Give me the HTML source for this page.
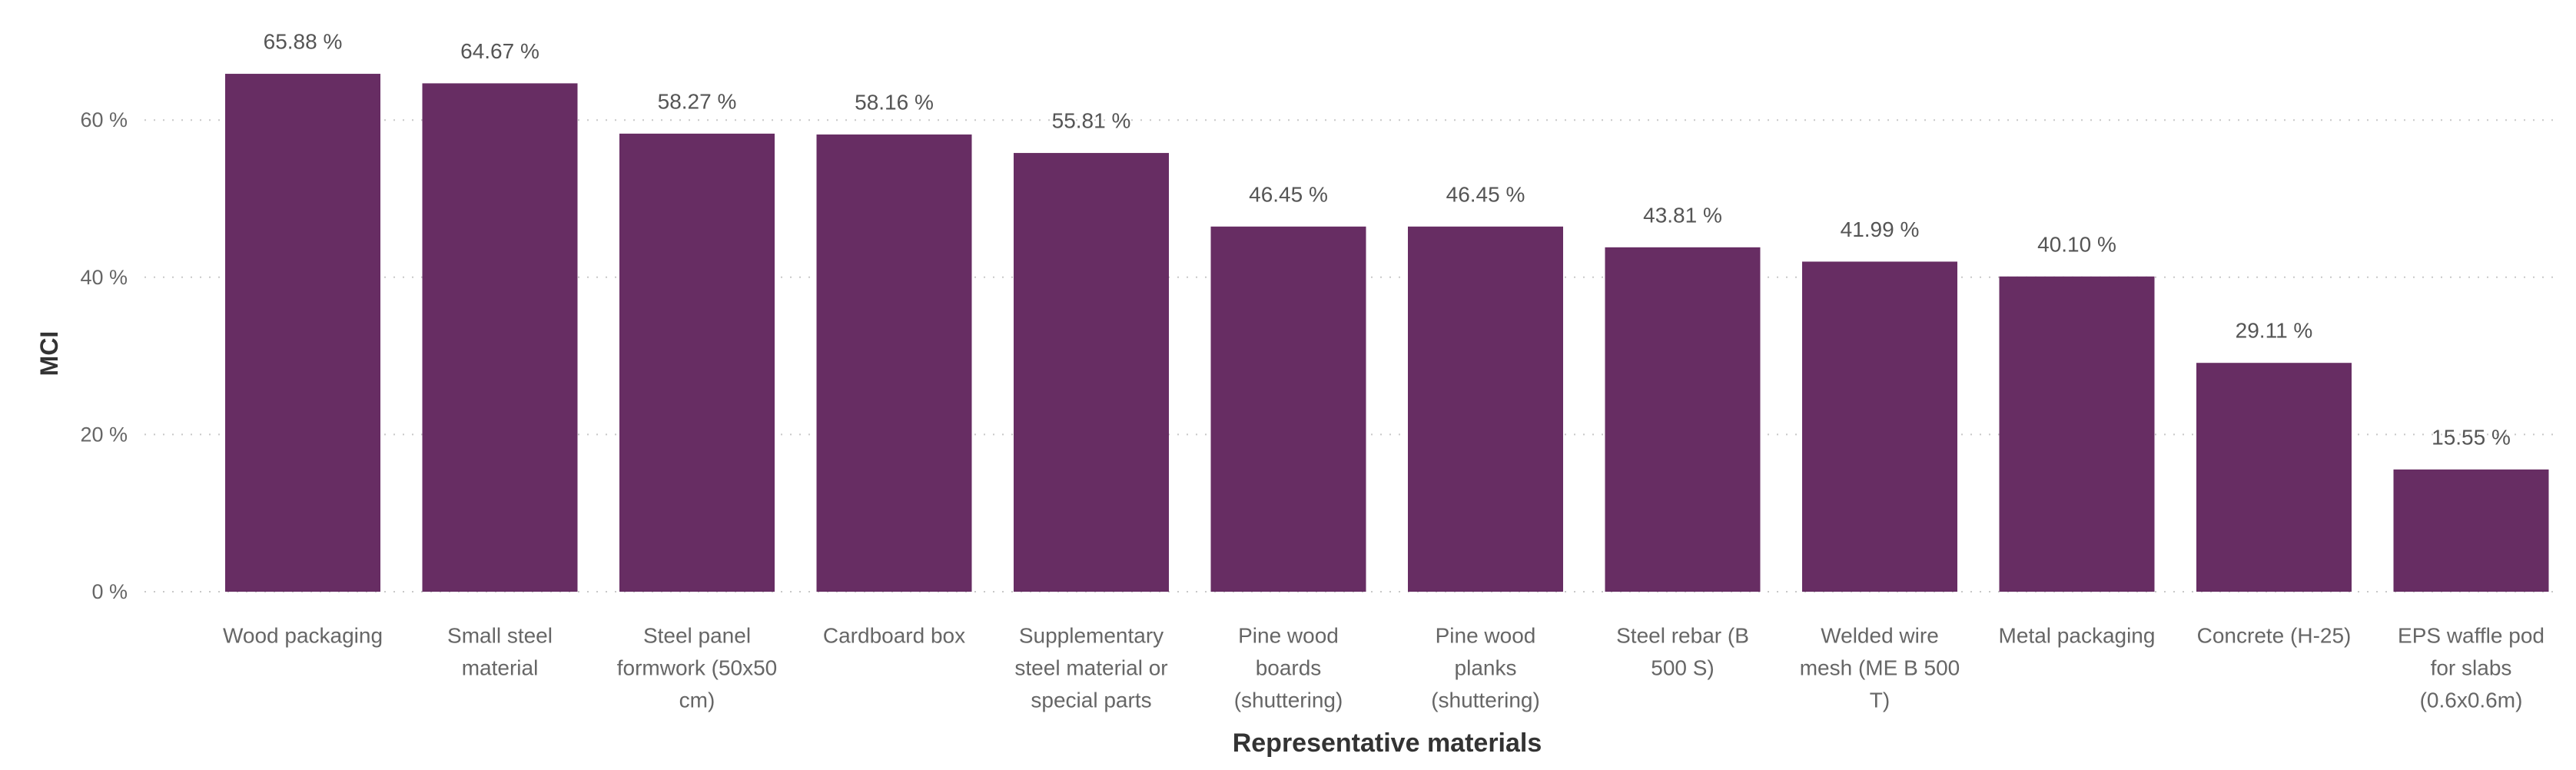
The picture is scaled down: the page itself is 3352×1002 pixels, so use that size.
<!DOCTYPE html>
<html><head><meta charset="utf-8"><style>
html,body{margin:0;padding:0;background:#fff;}
svg{display:block;font-family:"Liberation Sans",sans-serif;}
</style></head><body>
<svg id="chart" width="3352" height="1002" viewBox="0 0 3352 1002" xmlns="http://www.w3.org/2000/svg">
<g id="grid"></g>
<g id="yaxis"></g>
<g id="bars"></g>
<g id="xaxis"></g>
<text x="64" y="460" transform="rotate(-90 64 460)" text-anchor="middle" dominant-baseline="central" font-size="32" font-weight="bold" fill="#333">MCI</text>
<text x="1805" y="967" text-anchor="middle" dominant-baseline="central" font-size="34" font-weight="bold" fill="#333">Representative materials</text>
</svg>
<script>
const categories = [
  ["Wood packaging"],
  ["Small steel","material"],
  ["Steel panel","formwork (50x50","cm)"],
  ["Cardboard box"],
  ["Supplementary","steel material or","special parts"],
  ["Pine wood","boards","(shuttering)"],
  ["Pine wood","planks","(shuttering)"],
  ["Steel rebar (B","500 S)"],
  ["Welded wire","mesh (ME B 500","T)"],
  ["Metal packaging"],
  ["Concrete (H-25)"],
  ["EPS waffle pod","for slabs","(0.6x0.6m)"]
];
const values = [65.88,64.67,58.27,58.16,55.81,46.45,46.45,43.81,41.99,40.10,29.11,15.55];
const yTicks = [0,20,40,60];

const NS = "http://www.w3.org/2000/svg";
const y0 = 770, pxPer = 204.6/20;
const x0 = 293, pitch = 256.5, bw = 202;
function yScale(v){ return y0 - v*pxPer; }
function xScale(i){ return x0 + i*pitch; }
function mk(tag, attrs, parent){
  const e = document.createElementNS(NS, tag);
  for (const k in attrs) e.setAttribute(k, attrs[k]);
  parent.appendChild(e); return e;
}
const grid = document.getElementById('grid'), yaxis = document.getElementById('yaxis');
const bars = document.getElementById('bars'), xaxis = document.getElementById('xaxis');
yTicks.forEach(t => {
  const l = mk('line',{x1:188,x2:3330,y1:yScale(t),y2:yScale(t),stroke:'#c8c8c8','stroke-width':2,'stroke-dasharray':'2 10'},grid);
  
  
  const tx = mk('text',{x:166,y:yScale(t),'text-anchor':'end','dominant-baseline':'central','font-size':27,fill:'#666'},yaxis);
  tx.textContent = t + ' %';
  
  
});
values.forEach((v,i) => {
  const x = xScale(i);
  const r = mk('rect',{x:x,y:yScale(v),width:bw,height:y0-yScale(v),fill:'#672d63'},bars);
  
  
  const lab = mk('text',{x:x+bw/2,y:yScale(v)-42,'text-anchor':'middle','dominant-baseline':'central','font-size':28,fill:'#555'},bars);
  lab.textContent = v.toFixed(2) + ' %';
  
  
  const ct = mk('text',{'text-anchor':'middle','font-size':28,fill:'#666'},xaxis);
  
  
  categories[i].forEach((line,j) => {
    const ts = mk('tspan',{x:x+bw/2,y:827+j*42,'dominant-baseline':'central'},ct);
    ts.textContent = line;
  });
});
</script>
</body></html>
